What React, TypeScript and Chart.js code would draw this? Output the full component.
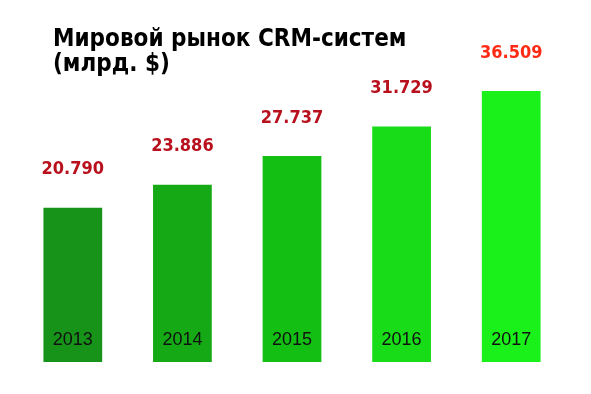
import React, { useEffect, useRef } from "react";
import { Chart, registerables } from "chart.js";

Chart.register(...registerables);

const titleLines = ["Мировой рынок CRM-систем", "(млрд. $)"];
const years = ["2013", "2014", "2015", "2016", "2017"];
const values = [20.79, 23.886, 27.737, 31.729, 36.509];
const valueLabels = ["20.790", "23.886", "27.737", "31.729", "36.509"];
const barColors = ["#17931a", "#15aa15", "#13bf13", "#17dc17", "#1af01a"];
const labelColors = ["#b8101c", "#b8101c", "#b8101c", "#b8101c", "#ff2a14"];

export default function App() {
  const ref = useRef<HTMLCanvasElement>(null);

  useEffect(() => {
    document.body.style.margin = "0";
    const canvas = ref.current!;
    const overlay = {
      id: "overlay",
      afterDatasetsDraw(chart: any) {
        const ctx = chart.ctx;
        const meta = chart.getDatasetMeta(0);
        ctx.save();
        ctx.fillStyle = "#000";
        ctx.textAlign = "left";
        ctx.textBaseline = "alphabetic";
        ctx.font = "bold 24px 'DejaVu Sans Condensed', 'DejaVu Sans', sans-serif";
        ctx.fillText(titleLines[0], 53, 46);
        ctx.fillText(titleLines[1], 53, 71);
        meta.data.forEach((bar: any, i: number) => {
          ctx.textAlign = "center";
          ctx.textBaseline = "middle";
          ctx.font = "bold 18px 'DejaVu Sans Condensed', 'DejaVu Sans', sans-serif";
          ctx.fillStyle = labelColors[i];
          ctx.fillText(valueLabels[i], bar.x, bar.y - 38);
          ctx.font = "18px 'Liberation Sans', Arial, sans-serif";
          ctx.fillStyle = "#111";
          ctx.fillText(years[i], bar.x, bar.base - 22);
        });
        ctx.restore();
      },
    };
    const chart = new Chart(canvas, {
      type: "bar",
      data: {
        labels: years,
        datasets: [
          {
            data: values,
            backgroundColor: barColors,
            borderWidth: 0,
            categoryPercentage: 1,
            barPercentage: 0.536,
          },
        ],
      },
      options: {
        animation: false,
        responsive: false,
        layout: { padding: { left: 18, right: 25, top: 68, bottom: 32 } },
        plugins: { legend: { display: false }, tooltip: { enabled: false } },
        scales: {
          x: { display: false },
          y: { display: false, min: 0, max: 39.6 },
        },
      },
      plugins: [overlay],
    });
    return () => chart.destroy();
  }, []);

  return (
    <div style={{ position: "absolute", left: 0, top: 0, width: 591, height: 394, background: "#fff" }}>
      <canvas ref={ref} width={591} height={394} />
    </div>
  );
}
